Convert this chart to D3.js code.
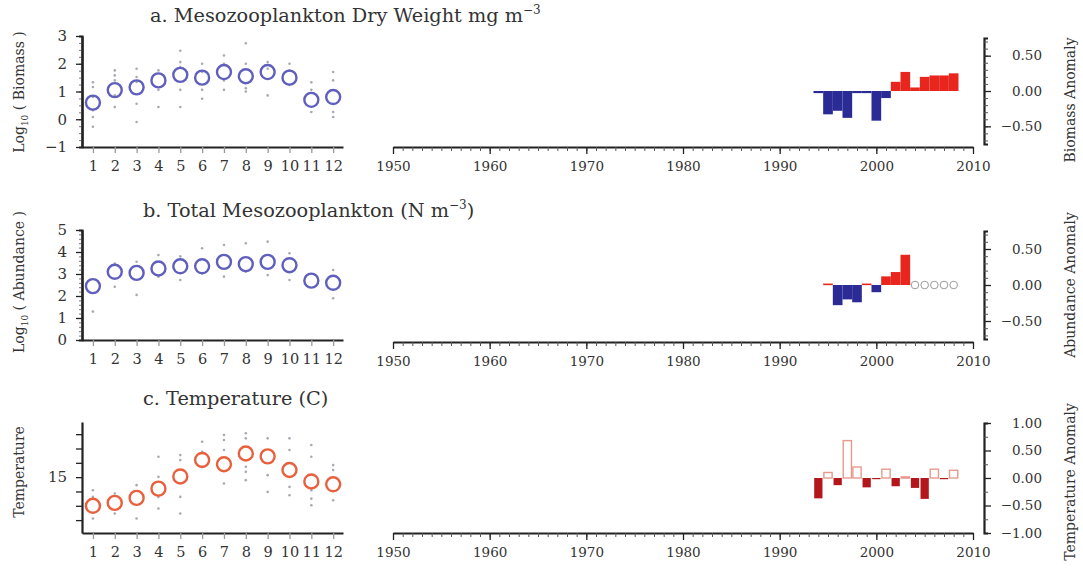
<!DOCTYPE html>
<html>
<head>
<meta charset="utf-8">
<script src="https://cdn.jsdelivr.net/npm/d3@7"></script>
<style>
  body { margin: 0; background: #fff; }
  svg { display: block; font-family: "DejaVu Serif", "Liberation Serif", serif; }
  .tick text { fill: #333; }
</style>
</head>
<body>
<div id="chart"></div>
<script>
// ---- data ----
const months = [1, 2, 3, 4, 5, 6, 7, 8, 9, 10, 11, 12];

// monthly means (big circles)
const biomassMean = [0.6, 1.05, 1.15, 1.4, 1.6, 1.5, 1.7, 1.55, 1.7, 1.5, 0.7, 0.8];
const abundanceMean = [2.45, 3.1, 3.05, 3.25, 3.35, 3.35, 3.55, 3.45, 3.55, 3.4, 2.7, 2.6];
const temperatureMean = [13.0, 13.2, 13.55, 14.2, 15.05, 16.2, 15.9, 16.65, 16.45, 15.5, 14.7, 14.5];

// individual years (small grey dots), one list per month
const biomassObs = [
  [1.33, 1.16, 0.8, 0.32, 0.08, -0.27], [1.76, 1.58, 1.4, 0.86, 0.44], [1.82, 1.52, 1.34, 0.56, -0.1],
  [1.76, 1.06, 0.44], [2.47, 2.06, 1.88, 1.06, 0.44], [2.0, 1.7, 1.06, 0.74],
  [2.3, 2.0, 1.4, 1.06], [2.74, 2.0, 1.12, 1.0], [2.06, 1.82, 0.86],
  [2.0, 1.76, 1.23], [1.33, 1.06, 0.26], [1.7, 1.4, 0.26, 0.08]
];
const abundanceObs = [
  [1.29], [3.48, 2.42], [3.56, 2.05], [3.86, 2.88], [3.8, 2.73], [4.17, 3.03],
  [4.32, 2.88], [4.4, 3.1], [4.47, 2.95], [3.94, 2.73], [], [3.18, 1.9]
];
const temperatureObs = [
  [14.09, 13.62, 12.11], [13.86, 12.46], [14.44, 12.11], [16.42, 15.02, 13.62, 12.81],
  [16.54, 16.19, 13.62, 12.46], [17.47, 16.77, 15.72], [17.94, 17.59, 16.89, 14.56],
  [18.06, 17.71, 15.72, 15.37, 14.79], [17.71, 15.14, 13.97], [17.71, 16.89, 14.32, 13.74],
  [17.24, 16.42, 14.09, 13.5, 13.04], [15.84, 15.49, 13.39]
];

// annual anomalies
const years = [1994, 1995, 1996, 1997, 1998, 1999, 2000, 2001, 2002, 2003, 2004, 2005, 2006, 2007, 2008];
const biomassAnomaly = [-0.03, -0.33, -0.28, -0.38, -0.03, -0.03, -0.42, -0.1, 0.13, 0.27, 0.05, 0.2, 0.22, 0.22, 0.25];
const abundanceAnomaly = [0, 0.02, -0.28, -0.2, -0.24, 0.02, -0.1, 0.12, 0.18, 0.42, null, null, null, null, null];
const temperatureAnomaly = [-0.37, 0.1, -0.13, 0.68, 0.2, -0.17, -0.02, 0.16, -0.15, 0.02, -0.18, -0.38, 0.16, -0.02, 0.14];

const yearTicks = [1950, 1960, 1970, 1980, 1990, 2000, 2010];

// ---- layout ----
const W = 1083, H = 574;
const svg = d3.select("#chart").append("svg").attr("width", W).attr("height", H);

const monthX = d3.scaleLinear().domain([0.5, 12.45]).range([82, 343]);
const yearX = d3.scaleLinear().domain([1950, 2010]).range([393, 973]);
const barW = yearX(1951) - yearX(1950);

const panels = [
  {
    title: "a. Mesozooplankton Dry Weight mg m", sup: "\u22123", titleX: 150, titleY: 22,
    ylabel: ["Log", "10", " ( Biomass )"], ylabelY: 92,
    rlabel: "Biomass Anomaly", rlabelY: 100,
    means: biomassMean, obs: biomassObs, circ: "#5f5fbd",
    leftY: d3.scaleLinear().domain([-1, 3]).range([147, 36]),
    leftTicks: [-1, 0, 1, 2, 3], leftMinor: d3.range(-1, 3.01, 0.25), leftFmt: d => d3.format("d")(d),
    axisY: 147, rAxisY: 147,
    rightY: d3.scaleLinear().domain([-0.75, 0.75]).range([144, 38]),
    rightTicks: [-0.5, 0, 0.5], rightMinor: d3.range(-0.7, 0.71, 0.1),
    anomaly: biomassAnomaly, kind: "posneg", neg: "#2b2b95", pos: "#e8261e"
  },
  {
    title: "b. Total Mesozooplankton (N m", sup: "\u22123", titleTail: ")", titleX: 143, titleY: 217,
    ylabel: ["Log", "10", " ( Abundance )"], ylabelY: 282,
    rlabel: "Abundance Anomaly", rlabelY: 285,
    means: abundanceMean, obs: abundanceObs, circ: "#5f5fbd",
    leftY: d3.scaleLinear().domain([0, 5]).range([340, 230]),
    leftTicks: [0, 1, 2, 3, 4, 5], leftMinor: d3.range(0, 5.01, 0.2), leftFmt: d => d3.format("d")(d),
    axisY: 340, rAxisY: 342,
    rightY: d3.scaleLinear().domain([-0.75, 0.75]).range([339, 231]),
    rightTicks: [-0.5, 0, 0.5], rightMinor: d3.range(-0.7, 0.71, 0.1),
    anomaly: abundanceAnomaly, kind: "posneg", neg: "#2b2b95", pos: "#e8261e"
  },
  {
    title: "c. Temperature (C)", titleX: 143, titleY: 405,
    ylabel: ["Temperature"], ylabelY: 472,
    rlabel: "Temperature Anomaly", rlabelY: 482,
    means: temperatureMean, obs: temperatureObs, circ: "#e8603e",
    leftY: d3.scaleLinear().domain([11.1, 18.85]).range([533, 422]),
    leftTicks: [12, 13, 14, 15, 16, 17, 18], leftMinor: [], leftFmt: d => d === 15 ? "15" : "",
    axisY: 533, rAxisY: 533,
    rightY: d3.scaleLinear().domain([-1, 1]).range([533, 423]),
    rightTicks: [-1, -0.5, 0, 0.5, 1], rightMinor: d3.range(-0.75, 0.76, 0.5),
    anomaly: temperatureAnomaly, kind: "openfill", neg: "#b3161b", pos: "#e79a8c"
  }
];

const axisColor = "#222";

function styleAxis(g, size) {
  g.select(".domain").attr("stroke", axisColor).attr("stroke-width", 2.2);
  g.selectAll(".tick line").attr("stroke", axisColor).attr("stroke-width", 1.3);
  g.selectAll(".tick text").attr("font-size", size).attr("font-family", "DejaVu Serif, serif");
}

panels.forEach(p => {
  // title
  const t = svg.append("text").attr("x", p.titleX).attr("y", p.titleY)
    .attr("font-size", 19.3).attr("fill", "#333").text(p.title);
  if (p.sup) t.append("tspan").attr("font-size", 12).attr("dy", -8).text(p.sup);
  if (p.titleTail) t.append("tspan").attr("dy", 8).text(p.titleTail);

  // left y label
  const yl = svg.append("text").attr("transform", `translate(24,${p.ylabelY}) rotate(-90)`)
    .attr("text-anchor", "middle").attr("font-size", 14).attr("fill", "#333");
  yl.append("tspan").text(p.ylabel[0]);
  if (p.ylabel.length > 1) {
    yl.append("tspan").attr("font-size", 9).attr("dy", 4).text(p.ylabel[1]);
    yl.append("tspan").attr("dy", -4).text(p.ylabel[2]);
  }

  // right label
  svg.append("text").attr("transform", `translate(1075,${p.rlabelY}) rotate(-90)`)
    .attr("text-anchor", "middle").attr("font-size", 14).attr("fill", "#333").text(p.rlabel);

  // ---- left panel: monthly climatology ----
  const y = p.leftY;
  if (p.leftMinor.length) {
    svg.append("g").attr("transform", "translate(82,0)")
      .call(d3.axisLeft(y).tickValues(p.leftMinor).tickSize(3).tickFormat(""))
      .call(g => styleAxis(g, 14))
      .call(g => g.selectAll(".tick line").attr("stroke", "#777").attr("stroke-width", 1));
  }
  svg.append("g").attr("transform", "translate(82,0)")
    .call(d3.axisLeft(y).tickValues(p.leftTicks).tickSize(6).tickPadding(9).tickFormat(p.leftFmt).tickSizeOuter(0))
    .call(g => styleAxis(g, 15));

  svg.append("g").attr("transform", `translate(0,${p.axisY})`)
    .call(d3.axisBottom(monthX).tickValues(months).tickSize(6).tickPadding(8).tickFormat(d3.format("d")).tickSizeOuter(0))
    .call(g => styleAxis(g, 14.5))
    .call(g => g.selectAll(".tick line").attr("stroke", "#999"));

  const dots = [];
  p.obs.forEach((vals, i) => vals.forEach(v => dots.push({ m: months[i], v })));
  svg.append("g").selectAll("circle").data(dots).enter().append("circle")
    .attr("cx", d => monthX(d.m)).attr("cy", d => y(d.v)).attr("r", 1.3)
    .attr("fill", "#a9a9b4");

  svg.append("g").selectAll("circle").data(months).enter().append("circle")
    .attr("cx", d => monthX(d)).attr("cy", (d, i) => y(p.means[i])).attr("r", 7)
    .attr("fill", "none").attr("stroke", p.circ).attr("stroke-width", 2.4);

  // ---- right panel: annual anomalies ----
  svg.append("g").attr("transform", `translate(0,${p.rAxisY})`)
    .call(d3.axisBottom(yearX).tickValues(d3.range(1950, 2011, 1)).tickSize(4).tickFormat("").tickSizeOuter(0))
    .call(g => styleAxis(g, 14))
    .call(g => g.selectAll(".tick line").attr("stroke", "#555").attr("stroke-width", 1));
  svg.append("g").attr("transform", `translate(0,${p.rAxisY})`)
    .call(d3.axisBottom(yearX).tickValues(yearTicks).tickSize(7).tickPadding(7).tickFormat(d3.format("d")).tickSizeOuter(0))
    .call(g => styleAxis(g, 13.5))
    .call(g => g.select(".domain").remove());

  const ry = p.rightY;
  svg.append("g").attr("transform", "translate(984,0)")
    .call(d3.axisRight(ry).tickValues(p.rightMinor).tickSize(4).tickFormat(""))
    .call(g => styleAxis(g, 14))
    .call(g => g.selectAll(".tick line").attr("stroke", "#555").attr("stroke-width", 1));
  svg.append("g").attr("transform", "translate(984,0)")
    .call(d3.axisRight(ry).tickValues(p.rightTicks).tickSize(7).tickPadding(6).tickFormat(d3.format(".2f")).tickSizeOuter(0))
    .call(g => styleAxis(g, 13.5))
    .call(g => g.selectAll(".tick text").attr("text-anchor", "end").attr("x", 58))
    .call(g => g.select(".domain").remove());

  const rows = years.map((yr, i) => ({ yr, v: p.anomaly[i] }));
  const bars = rows.filter(d => d.v !== null && d.v !== 0);
  const barsG = svg.append("g");
  if (p.kind === "posneg") {
    barsG.selectAll("rect").data(bars).enter().append("rect")
      .attr("x", d => yearX(d.yr) - barW / 2)
      .attr("width", barW)
      .attr("y", d => ry(Math.max(0, d.v)))
      .attr("height", d => Math.max(1.6, Math.abs(ry(d.v) - ry(0))))
      .attr("fill", d => d.v < 0 ? p.neg : p.pos);
    // missing years drawn as open circles
    barsG.selectAll("circle").data(rows.filter(d => d.v === null)).enter().append("circle")
      .attr("cx", d => yearX(d.yr)).attr("cy", ry(0)).attr("r", 3.8)
      .attr("fill", "none").attr("stroke", "#9a9a9a").attr("stroke-width", 1);
  } else {
    barsG.selectAll("rect").data(bars).enter().append("rect")
      .attr("x", d => yearX(d.yr) - barW / 2 + 0.7)
      .attr("width", barW - 1.4)
      .attr("y", d => ry(Math.max(0, d.v)))
      .attr("height", d => Math.max(1.2, Math.abs(ry(d.v) - ry(0))))
      .attr("fill", d => d.v < 0 ? p.neg : "#fff")
      .attr("stroke", d => d.v < 0 ? "none" : p.pos)
      .attr("stroke-width", 1.4);
  }
});
</script>
</body>
</html>
